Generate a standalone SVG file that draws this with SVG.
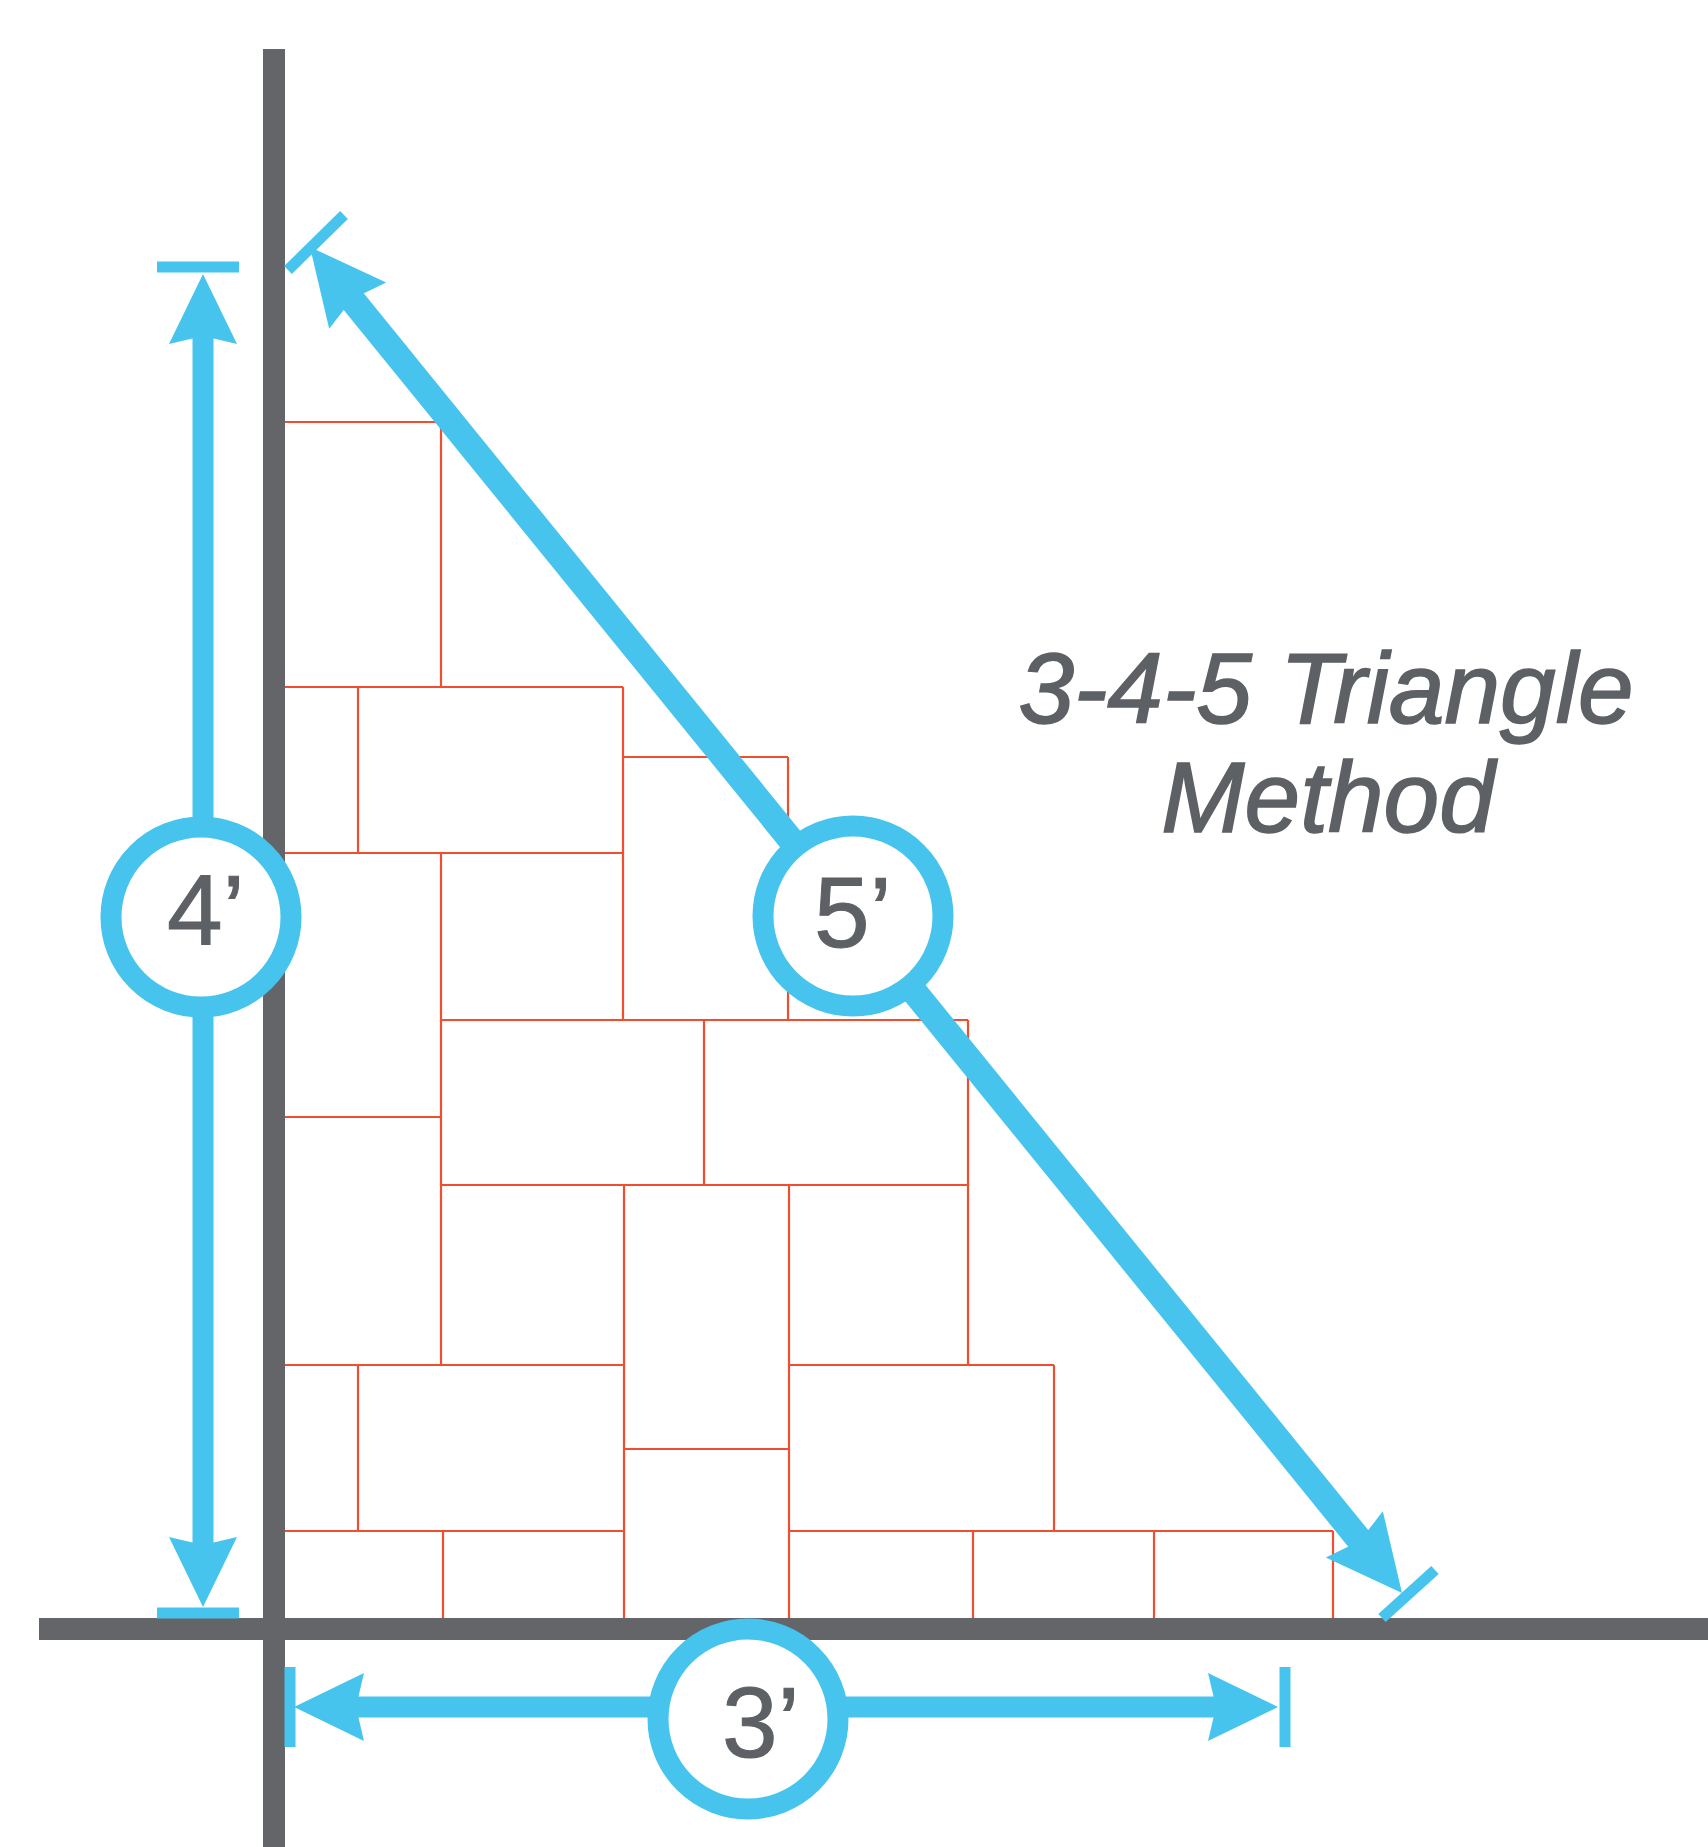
<svg xmlns="http://www.w3.org/2000/svg" width="1708" height="1847" viewBox="0 0 1708 1847">
<style>
.tile{fill:none;stroke:#f14e2f;stroke-width:2.2}
.axis{fill:#636569}
.dim{stroke:#46c4ee;stroke-width:21;fill:none}
.diag{stroke:#46c4ee;stroke-width:26;fill:none}
.tick{stroke:#46c4ee;stroke-width:11;fill:none}
.ring{fill:#ffffff;stroke:#46c4ee;stroke-width:21}
.num{font-family:"Liberation Sans",Arial,sans-serif;font-size:100px;fill:#5d6064;stroke:#5d6064;stroke-width:1}
.title{font-family:"Liberation Sans",Arial,sans-serif;font-size:100px;font-style:italic;fill:#5d6064;stroke:#5d6064;stroke-width:1.6;text-anchor:middle}
.head{fill:#46c4ee}
</style>
<defs>
<path id="ah" d="M0,0 L-70,-34 L-62,0 L-70,34 Z"/>
</defs>
<rect width="1708" height="1847" fill="#ffffff"/>
<g id="tiles">
<path class="tile" d="M285,422H441 M285,687H623 M623,757H788 M285,853H623 M441,1020H968 M285,1117H441 M441,1185H968 M285,1365H624 M789,1365H1054 M624,1449H789 M285,1531H624 M789,1531H1333
M441,422V687 M358,687V853 M623,687V1020 M788,757V1020 M441,853V1365 M704,1020V1185 M968,1020V1365 M624,1185V1619 M789,1185V1619 M358,1365V1531 M1054,1365V1531 M443,1531V1619 M973,1531V1619 M1154,1531V1619 M1333,1531V1619"/>
</g>
<g id="axes">
<rect class="axis" x="263" y="49" width="22" height="1798"/>
<rect class="axis" x="39" y="1618" width="1669" height="22"/>
</g>
<g id="connectors">
<line class="dim" x1="203" y1="330" x2="203" y2="1552"/>
<line class="tick" x1="157" y1="267" x2="239" y2="267"/>
<line class="tick" x1="157" y1="1613" x2="239" y2="1613"/>
<use href="#ah" class="head" transform="translate(203,274) rotate(-90)"/>
<use href="#ah" class="head" transform="translate(203,1607) rotate(90)"/>
<line class="dim" x1="350" y1="1707" x2="1222" y2="1707"/>
<line class="tick" x1="290" y1="1667" x2="290" y2="1747"/>
<line class="tick" x1="1285" y1="1667" x2="1285" y2="1747"/>
<use href="#ah" class="head" transform="translate(294,1707) rotate(180)"/>
<use href="#ah" class="head" transform="translate(1278,1707)"/>
<line class="diag" x1="350" y1="297" x2="1362" y2="1543"/>
<line class="tick" x1="288" y1="270" x2="344" y2="215"/>
<line class="tick" x1="1382" y1="1618" x2="1435" y2="1570"/>
<use href="#ah" class="head" transform="translate(310,247) rotate(230.9) scale(1.08)"/>
<use href="#ah" class="head" transform="translate(1402,1593) rotate(50.9) scale(1.08)"/>
</g>
<g id="node-4ft">
<circle class="ring" cx="201" cy="917" r="90"/>
<text class="num" x="167" y="945">4’</text>
</g>
<g id="node-5ft">
<circle class="ring" cx="853" cy="916" r="90"/>
<text class="num" x="814" y="947">5’</text>
</g>
<g id="node-3ft">
<circle class="ring" cx="748" cy="1719" r="90"/>
<text class="num" x="722" y="1757">3’</text>
</g>
<g id="title">
<text class="title" x="1326" y="723">3-4-5 Triangle</text>
<text class="title" x="1328" y="832">Method</text>
</g>
</svg>
